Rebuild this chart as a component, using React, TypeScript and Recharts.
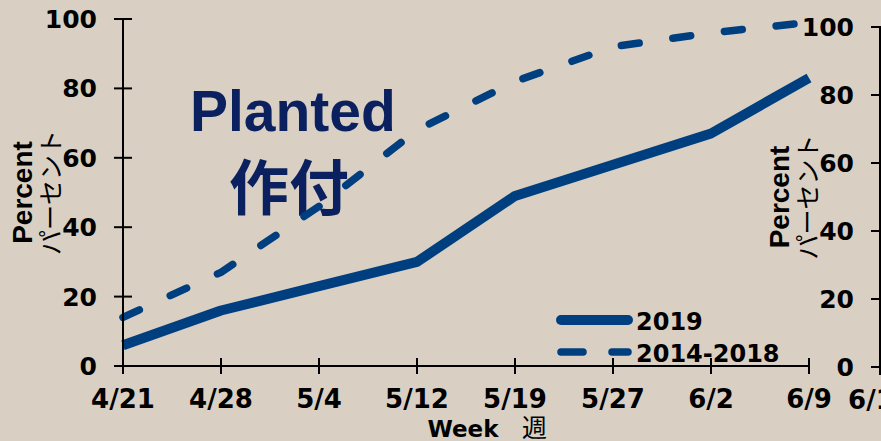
import React from 'react';
import { LineChart, Line, XAxis, YAxis, Legend } from 'recharts';

// Weekly planting progress (percent of intended acreage planted)
const weeks = ['4/21', '4/28', '5/4', '5/12', '5/19', '5/27', '6/2', '6/9'];
const planted2019 = [6, 16, 23, 30, 49, 58, 67, 83];
const plantedAvg = [14, 27, 46, 68, 82, 92, 96, 99];
const percentTicks = [0, 20, 40, 60, 80, 100];

// Following panel, only its leading edge is in view
const nextWeeks = ['6/16', '6/23'];
const next2019 = [3, 10];

const seriesOrder = ['y2019', 'avg'];

const data = weeks.map((w, i) => ({ week: w, y2019: planted2019[i], avg: plantedAvg[i] }));
const nextData = nextWeeks.map((w, i) => ({ week: w, y2019: next2019[i] }));

const BG = '#d9d0c3';
const LINE = '#003f7f';
const TITLE = '#0b215f';
const NUM_FONT = '"DejaVu Sans", sans-serif';
const SANS_FONT = '"Liberation Sans", Arial, sans-serif';
const CJK_FONT = '"Noto Sans CJK JP", sans-serif';

const Y_TICK = 9;
const Y_GAP = 17;
const X_TICK = 8;
const X_GAP = 16;

const YTick = (props: any) => {
  const { x, y, payload } = props;
  const axisX = x + Y_TICK + Y_GAP;
  return (
    <g>
      <line x1={axisX - Y_TICK} x2={axisX + Y_TICK} y1={y} y2={y} stroke="#000" strokeWidth={2} />
      <text x={x} y={y} dy="0.36em" textAnchor="end" fontFamily={NUM_FONT} fontWeight="bold" fontSize={25} fill="#000">
        {payload.value}
      </text>
    </g>
  );
};

const XTick = (props: any) => {
  const { x, y, payload } = props;
  const axisY = y - X_TICK - X_GAP;
  return (
    <g>
      <line x1={x} x2={x} y1={axisY - X_TICK} y2={axisY + X_TICK} stroke="#000" strokeWidth={2} />
      <text x={x} y={y} dy="0.71em" textAnchor="middle" fontFamily={NUM_FONT} fontWeight="bold" fontSize={26} fill="#000">
        {payload.value}
      </text>
    </g>
  );
};

const PercentLabel = (props: any) => {
  const vb = props.viewBox || {};
  const right = vb.x + vb.width;
  const cy = vb.y + vb.height / 2;
  const a = right - 91;
  const b = right - 63;
  return (
    <g>
      <text x={a} y={cy} transform={`rotate(-90, ${a}, ${cy})`} textAnchor="middle" fontFamily={SANS_FONT} fontWeight="bold" fontSize={28} fill="#000">
        Percent
      </text>
      <text x={b} y={cy} transform={`rotate(-90, ${b}, ${cy})`} textAnchor="middle" fontFamily={CJK_FONT} fontWeight={400} fontSize={25} fill="#000">
        パーセント
      </text>
    </g>
  );
};

const WeekLabel = (props: any) => {
  const vb = props.viewBox || {};
  const cx = vb.x + vb.width / 2;
  const base = vb.y + vb.height - 4;
  return (
    <g>
      <text x={cx - 3} y={base} textAnchor="middle" fontFamily={NUM_FONT} fontWeight="bold" fontSize={23} fill="#000">
        Week
      </text>
      <text x={cx + 56} y={base} textAnchor="start" fontFamily={CJK_FONT} fontWeight={400} fontSize={25} fill="#000">
        週
      </text>
    </g>
  );
};

const renderLegend = (props: any) => {
  const items = [...(props.payload || [])].sort(
    (p: any, q: any) => seriesOrder.indexOf(p.dataKey) - seriesOrder.indexOf(q.dataKey)
  );
  return (
    <svg width={240} height={70} style={{ display: 'block' }}>
      {items.map((it: any, i: number) => {
        const y = 15 + i * 32;
        const dashed = it.dataKey === 'avg';
        return (
          <g key={i}>
            <line
              x1={11}
              x2={78}
              y1={y}
              y2={y}
              stroke={it.color}
              strokeWidth={dashed ? 7.5 : 10}
              strokeDasharray={dashed ? '22 29' : undefined}
              strokeLinecap="round"
            />
            <text x={86} y={y + 10} fontFamily={NUM_FONT} fontWeight="bold" fontSize={24} fill="#000">
              {it.value}
            </text>
          </g>
        );
      })}
    </svg>
  );
};

export default function App() {
  return (
    <div style={{ position: 'absolute', left: 0, top: 0, width: 881, height: 441, overflow: 'hidden', background: BG }}>
      <svg width={881} height={441} style={{ position: 'absolute', left: 0, top: 0 }}>
        <text x={190} y={131} fontFamily={SANS_FONT} fontWeight="bold" fontSize={57} fill={TITLE}>
          Planted
        </text>
        <text x={289} y={210} textAnchor="middle" fontFamily={CJK_FONT} fontWeight="bold" fontSize={60} fill={TITLE}>
          作付
        </text>
      </svg>

      <div style={{ position: 'absolute', left: 0, top: 0 }}>
        <LineChart width={881} height={441} data={data} margin={{ top: 19, right: 72, bottom: 0, left: 0 }}>
          <XAxis
            dataKey="week"
            interval={0}
            padding={{ left: 0, right: 0 }}
            height={75}
            tickSize={X_TICK}
            tickMargin={X_GAP}
            tickLine={false}
            axisLine={{ stroke: '#000', strokeWidth: 2 }}
            tick={<XTick />}
            label={WeekLabel}
          />
          <YAxis
            type="number"
            domain={[0, 100]}
            ticks={percentTicks}
            interval={0}
            width={123}
            tickSize={Y_TICK}
            tickMargin={Y_GAP}
            tickLine={false}
            axisLine={{ stroke: '#000', strokeWidth: 2 }}
            tick={<YTick />}
            label={PercentLabel}
          />
          <Line
            dataKey="y2019"
            name="2019"
            type="linear"
            stroke={LINE}
            strokeWidth={10}
            strokeLinejoin="round"
            dot={false}
            isAnimationActive={false}
          />
          <Line
            dataKey="avg"
            name="2014-2018"
            type="linear"
            stroke={LINE}
            strokeWidth={7.5}
            strokeDasharray="18 34"
            strokeLinecap="round"
            strokeLinejoin="round"
            dot={false}
            isAnimationActive={false}
          />
          <Legend
            layout="vertical"
            align="center"
            verticalAlign="middle"
            content={renderLegend}
            wrapperStyle={{ left: 550, top: 305, width: 240, height: 70 }}
          />
        </LineChart>
      </div>

      <div style={{ position: 'absolute', left: 0, top: 0 }}>
        <LineChart width={1100} height={441} data={nextData} margin={{ top: 27, right: 0, bottom: 0, left: 0 }}>
          <XAxis
            dataKey="week"
            interval={0}
            padding={{ left: 0, right: 0 }}
            height={74}
            tickSize={X_TICK}
            tickMargin={X_GAP}
            tickLine={false}
            axisLine={{ stroke: '#000', strokeWidth: 2 }}
            tick={<XTick />}
          />
          <YAxis
            type="number"
            domain={[0, 100]}
            ticks={percentTicks}
            interval={0}
            width={880}
            tickSize={Y_TICK}
            tickMargin={Y_GAP}
            tickLine={false}
            axisLine={{ stroke: '#000', strokeWidth: 2 }}
            tick={<YTick />}
            label={PercentLabel}
          />
          <Line
            dataKey="y2019"
            name="2019"
            type="linear"
            stroke={LINE}
            strokeWidth={10}
            dot={false}
            isAnimationActive={false}
          />
        </LineChart>
      </div>
    </div>
  );
}
